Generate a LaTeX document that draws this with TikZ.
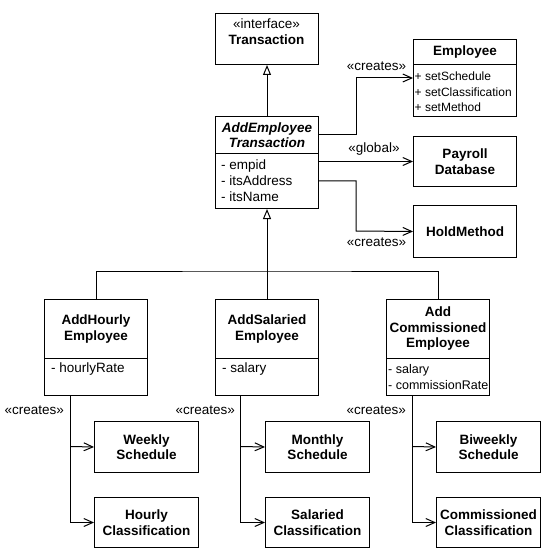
\documentclass[tikz,border=0pt]{standalone}
\usepackage{fontspec}
\setmainfont{Liberation Sans}
\usetikzlibrary{arrows.meta}
\begin{document}
\begin{tikzpicture}[x=1pt,y=-1pt,
  box/.style={draw, line width=1pt, inner sep=0pt, anchor=north west, minimum width=103pt, align=center, font=\fontsize{13.5}{15.5}\selectfont\bfseries},
  wbox/.style={box, minimum width=104pt},
  attr/.style={anchor=west, align=left, inner sep=0pt, font=\fontsize{13.5}{16}\selectfont},
  lbl/.style={inner sep=0pt, font=\fontsize{13.5}{15.5}\selectfont},
  conn/.style={line width=1pt},
  dep/.style={conn, -{Straight Barb[length=9pt,width=8pt]}},
  gen/.style={conn, -{Triangle[open,length=10pt,width=8pt,fill=white]}},
]
\useasboundingbox (0,0) rectangle (545,553);

% Transaction interface
\node[box, minimum height=51pt] (trans) at (215,13) {};
\node[lbl, align=center] (transtxt) at (266.5,31.5) {«interface»\\\textbf{Transaction}};

% AddEmployeeTransaction
\node[box, minimum height=37pt] (aet) at (215,116) {\textit{AddEmployee}\\\textit{Transaction}};
\node[box, minimum height=55pt] (aeta) at (215,153) {};
\node[attr] (aettxt) at (221,181) {- empid\\- itsAddress\\- itsName};

% Employee
\node[box, minimum height=25pt] (emp) at (413,39) {Employee};
\node[box, minimum height=52pt] (empm) at (413,64) {};
\node[attr, font=\fontsize{12}{15.5}\selectfont] (emptxt) at (414.5,92) {+ setSchedule\\+ setClassification\\+ setMethod};

% Payroll Database, HoldMethod
\node[box, minimum height=50pt] (pdb) at (413,136) {Payroll\\Database};
\node[box, minimum height=52pt] (hold) at (413,205) {HoldMethod};

% Subclasses
\node[box, minimum height=59pt] (aeh) at (44,299) {AddHourly\\Employee};
\node[box, minimum height=37pt] (aeha) at (44,358) {};
\node[attr] (aehtxt) at (51,369) {- hourlyRate};

\node[box, minimum height=59pt] (aes) at (215,299) {AddSalaried\\Employee};
\node[box, minimum height=37pt] (aesa) at (215,358) {};
\node[attr] (aestxt) at (222,369) {- salary};

\node[box, minimum height=59pt] (aec) at (386,299) {Add\\Commissioned\\Employee};
\node[box, minimum height=37pt] (aeca) at (386,358) {};
\node[attr, font=\fontsize{12.5}{16}\selectfont] (aectxt) at (388,377) {- salary\\- commissionRate};

% Bottom boxes
\node[wbox, minimum height=51pt] (ws) at (94,421) {Weekly\\Schedule};
\node[wbox, minimum height=50pt] (hc) at (94,497) {Hourly\\Classification};
\node[wbox, minimum height=51pt] (ms) at (265,421) {Monthly\\Schedule};
\node[wbox, minimum height=50pt] (sc) at (265,497) {Salaried\\Classification};
\node[wbox, minimum height=51pt] (bs) at (436,421) {Biweekly\\Schedule};
\node[wbox, minimum height=50pt] (cc) at (436,497) {Commissioned\\Classification};

% Generalizations
\draw[gen] (aet.north) -- (trans.south);
\coordinate (bus) at (266.5,271);
\draw[conn] (aeh.north) |- (bus) -| (aec.north);
\draw[gen] (aes.north) -- (aeta.south);

% Dependencies from AddEmployeeTransaction
\coordinate (turn1) at (356,78);
\draw[dep] (aet.east) -| (turn1) -- (turn1 -| empm.west);
\node[lbl] (l1) at (376.5,66) {«creates»};
\draw[dep] (aeta.east |- pdb.west) -- (pdb.west);
\node[lbl] (l2) at (374,149) {«global»};
\coordinate (turn2) at (356,231);
\draw[dep] (aeta.east) -| (turn2) -- (hold.west);
\node[lbl] (l3) at (376.5,242) {«creates»};

% Creates from subclasses
\coordinate (h1) at (70.5,446.5);
\draw[dep] (h1 |- aeha.south) |- (hc.west);
\draw[dep] (h1) -- (ws.west);
\node[lbl, anchor=east] (l4) at (64,410) {«creates»};

\coordinate (h2) at (240.5,446.5);
\draw[dep] (h2 |- aesa.south) |- (sc.west);
\draw[dep] (h2) -- (ms.west);
\node[lbl, anchor=east] (l5) at (235,410) {«creates»};

\coordinate (h3) at (412,446.5);
\draw[dep] (h3 |- aeca.south) |- (cc.west);
\draw[dep] (h3) -- (bs.west);
\node[lbl, anchor=east] (l6) at (406,410) {«creates»};
\end{tikzpicture}
\end{document}
